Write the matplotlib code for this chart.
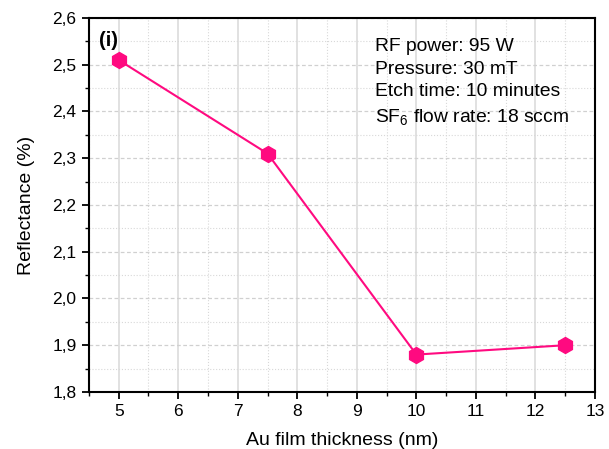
import matplotlib
matplotlib.use("Agg")
import matplotlib.pyplot as plt
from matplotlib.ticker import MultipleLocator, FuncFormatter

plt.rcParams['font.family'] = ['Liberation Sans', 'DejaVu Sans']
plt.rcParams['mathtext.fontset'] = 'custom'
plt.rcParams['mathtext.rm'] = 'Liberation Sans'
plt.rcParams['mathtext.it'] = 'Liberation Sans:italic'
plt.rcParams['mathtext.bf'] = 'Liberation Sans:bold'

thickness = [5, 7.5, 10, 12.5]
reflectance = [2.51, 2.31, 1.88, 1.90]
info_lines = ["RF power: 95 W", "Pressure: 30 mT", "Etch time: 10 minutes",
              "SF$_\\mathrm{6}$ flow rate: 18 sccm"]
color = '#FF0A80'

fig = plt.figure(figsize=(6.09, 4.49), dpi=100)
ax = fig.add_axes([0.146, 0.127, 0.831, 0.833])

ax.plot(thickness, reflectance, color=color, lw=1.5, marker='h',
        markersize=11.5, markerfacecolor=color, markeredgecolor=color, zorder=3)

ax.set_xlim(4.5, 13)
ax.set_ylim(1.8, 2.6)
ax.xaxis.set_major_locator(MultipleLocator(1))
ax.xaxis.set_minor_locator(MultipleLocator(0.5))
ax.yaxis.set_major_locator(MultipleLocator(0.1))
ax.yaxis.set_minor_locator(MultipleLocator(0.05))
ax.yaxis.set_major_formatter(FuncFormatter(lambda v, p: f"{v:.1f}".replace('.', ',')))

ax.grid(axis='x', which='major', color='#dcdcdc', lw=1.2, ls='-')
ax.grid(axis='x', which='minor', color='#d8d8d8', lw=0.8, ls=':')
ax.grid(axis='y', which='major', color='#d0d0d0', lw=0.9, ls=(0, (3, 2)))
ax.grid(axis='y', which='minor', color='#d8d8d8', lw=0.8, ls=':')
ax.set_axisbelow(True)

for s in ax.spines.values():
    s.set_linewidth(1.5)
ax.tick_params(which='major', direction='out', length=5, width=1.3, labelsize=12.5,
               top=False, right=False, pad=4)
ax.tick_params(which='minor', direction='out', length=3, width=1.0, top=False, right=False)

ax.set_xlabel('Au film thickness (nm)', fontsize=14, labelpad=9)
ax.set_ylabel('Reflectance (%)', fontsize=14, labelpad=12)

ax.text(0.02, 0.965, '(i)', transform=ax.transAxes, fontsize=14.5, fontweight='bold',
        va='top', ha='left')
ax.text(0.565, 0.947, "\n".join(info_lines), transform=ax.transAxes, fontsize=13.9,
        va='top', ha='left', linespacing=1.44)

fig.savefig('out.png', dpi=100)
